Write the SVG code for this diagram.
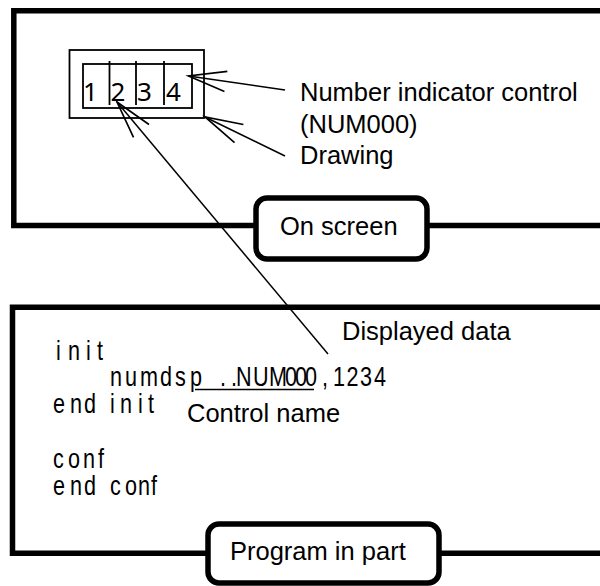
<svg xmlns="http://www.w3.org/2000/svg" width="600" height="586" viewBox="0 0 600 586">
<style>
.frame{fill:none;stroke:#000;stroke-width:5.5}
.tag{fill:#fff;stroke:#000;stroke-width:5.5}
.thin{fill:none;stroke:#000;stroke-width:1.8}
.conn{fill:none;stroke:#000;stroke-width:1.5}
.lbl{font-family:"Liberation Sans",Arial,sans-serif;font-size:25.5px;fill:#000}
.code{font-family:"Liberation Sans",Arial,sans-serif;font-size:27px;fill:#000}
.dig{font-family:"Noto Sans","DejaVu Sans",sans-serif;font-size:26px;fill:#000}
</style>
<defs>
<marker id="ah" markerUnits="userSpaceOnUse" markerWidth="50" markerHeight="50" refX="0" refY="0" viewBox="-40 -20 45 40" orient="auto" overflow="visible">
<path d="M-34,-9.1 L0,0 L-34,9.1" fill="none" stroke="#000" stroke-width="1.5"/>
</marker>
</defs>
<g id="screen-frame">
<path class="frame" d="M600,10.8 H13.8 V225.5 H600"/>
</g>
<g id="program-frame">
<path class="frame" d="M600,307.2 H12.5 V553.3 H600"/>
</g>
<g id="widget">
<rect class="thin" x="69.5" y="50" width="134.5" height="68"/>
<rect class="thin" x="83" y="64" width="109" height="44"/>
<line class="thin" x1="109.5" y1="61" x2="109.5" y2="105"/>
<line class="thin" x1="136" y1="61" x2="136" y2="105"/>
<line class="thin" x1="164" y1="61" x2="164" y2="105"/>
<text class="dig" x="83" y="101">1</text>
<text class="dig" x="110.5" y="101">2</text>
<text class="dig" x="137" y="101">3</text>
<text class="dig" x="166" y="101">4</text>
</g>
<g id="connectors">
<line class="conn" x1="285" y1="90" x2="188.5" y2="76" marker-end="url(#ah)"/>
<line class="conn" x1="285" y1="156" x2="205" y2="117" marker-end="url(#ah)"/>
<line class="conn" x1="328" y1="354" x2="117" y2="102" marker-end="url(#ah)"/>
</g>
<g id="label-num">
<text class="lbl" x="300" y="101">Number indicator control</text>
<text class="lbl" x="300" y="133">(NUM000)</text>
<text class="lbl" x="300" y="164">Drawing</text>
</g>
<g id="on-screen">
<rect class="tag" x="256" y="198" width="171" height="61" rx="11"/>
<text class="lbl" x="280" y="235">On screen</text>
</g>
<g id="label-displayed">
<text class="lbl" x="342" y="340">Displayed data</text>
</g>
<g id="code">
<line class="conn" x1="195" y1="389.5" x2="314" y2="389.5"/>
<g transform="scale(0.8,1)">
<text class="code" x="70 85 107.5 121.25" y="360">init</text>
<text class="code" x="137.5 156.25 175 200 218.75 237.5" y="386.5">numdsp</text>
<text class="code" x="275 288.75 295 316.25 336.25 356.25 368.75 381.25 402.5 416.25 433.1 450 467.5" y="386.5">..NUM000,1234</text>
<text class="code" x="66.25 87.5 105 137.5 150 172.5 185" y="413">endinit</text>
<text class="code" x="66.25 85 103.75 122.5" y="468">conf</text>
<text class="code" x="66.25 87.5 105 137.5 156.25 172.5 188.75" y="495">endconf</text>
</g>
</g>
<g id="label-control">
<text class="lbl" x="187" y="421.5">Control name</text>
</g>
<g id="program-in-part">
<rect class="tag" x="208" y="524" width="231" height="59" rx="11"/>
<text class="lbl" x="230" y="560">Program in part</text>
</g>
</svg>
